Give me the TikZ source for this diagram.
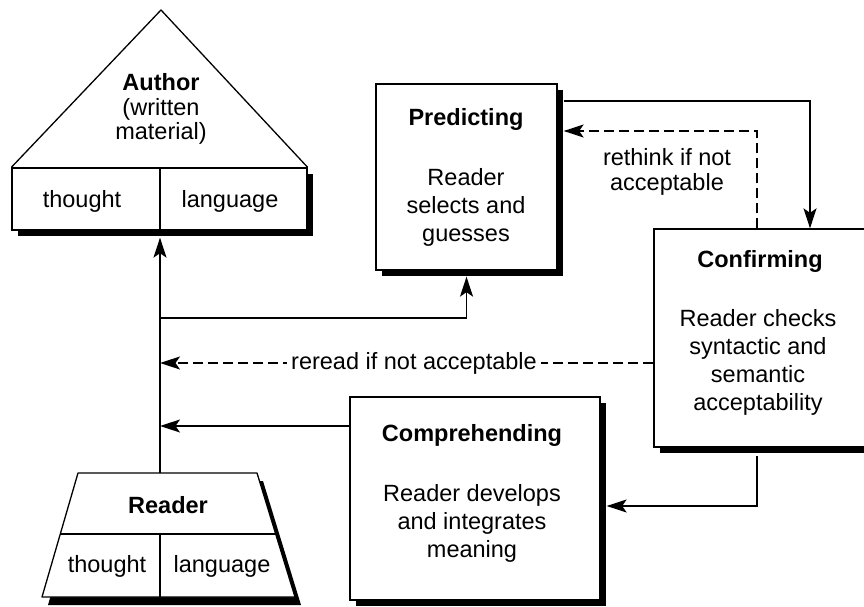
\documentclass[tikz,border=0pt]{standalone}
\usepackage{fontspec}
\setmainfont{Liberation Sans}
\usetikzlibrary{arrows.meta,shadows}

\tikzset{
  lbl/.style={font=\fontsize{23.5}{28}\selectfont, align=center, inner sep=0pt},
  ttl/.style={font=\fontsize{23.5}{28}\selectfont\bfseries, inner sep=0pt, anchor=base},
  stagebox/.style={draw, fill=white, line width=1.3pt, inner sep=0pt,
    drop shadow={shadow xshift=6pt, shadow yshift=-6pt, fill=black, opacity=1}},
  edge/.style={line width=1.3pt},
  flow/.style={edge, -{Stealth[length=20pt,width=13pt,inset=4.5pt]}},
  backflow/.style={flow, dash pattern=on 10pt off 5pt},
}

\begin{document}
\begin{tikzpicture}[x=1pt,y=-1pt]
\clip (0,0) rectangle (864,607);
\fill[white] (0,0) rectangle (864,607);

% ---- Author: triangle roof over a two-cell base ----
\node[stagebox, minimum width=295pt, minimum height=62pt] (authbox) at (159.5,199) {};
\coordinate (apex) at (161,10);
\draw[edge, line join=round] (authbox.north west) -- (apex) -- (authbox.north east);
\draw[edge] (160,168) -- (160,230);
\node[lbl, font=\fontsize{23.5}{24.5}\selectfont] (authT) at (161,109) {\textbf{Author}\\(written\\material)};
\node[lbl] (authThought) at (82,201) {thought};
\node[lbl] (authLang) at (230,201) {language};
\coordinate (authfoot) at ([yshift=-7pt]authbox.south);

% ---- Reader: trapezium with shadow ----
\fill[black] (84,481) -- (263,481) -- (301,605) -- (48,605) -- cycle;
\draw[edge, fill=white, line join=round] (78,473) -- (257,473) -- (295,597) -- (42,597) -- cycle;
\draw[edge] (60.3,534) -- (275.7,534);
\draw[edge] (160,534) -- (160,597);
\node[ttl] (readT) at (168,513.5) {Reader};
\node[lbl] (readThought) at (107,566) {thought};
\node[lbl] (readLang) at (222,566) {language};
\coordinate (rtop) at (160,473);

% ---- Stage boxes ----
\node[stagebox, minimum width=181pt, minimum height=186pt] (pred) at (466.5,177) {};
\node[ttl] (predT) at (466,125.5) {Predicting};
\node[lbl] (predB) at (466,207) {Reader\\selects and\\guesses};

\node[stagebox, minimum width=214pt, minimum height=218pt] (conf) at (761,338) {};
\node[ttl] (confT) at (760,267.5) {Confirming};
\node[lbl] (confB) at (758,362) {Reader checks\\syntactic and\\semantic\\acceptability};

\node[stagebox, minimum width=250pt, minimum height=203pt] (comp) at (475,498.5) {};
\node[ttl] (compT) at (472,441.5) {Comprehending};
\node[lbl] (compB) at (472,523) {Reader develops\\and integrates\\meaning};

% shadow edges, used as connector ends
\coordinate (predshadow) at ([xshift=6pt,yshift=-6pt]pred.south east);
\coordinate (predfoot) at ([yshift=-6pt]pred.south);
\coordinate (confshadow) at ([yshift=-8pt]conf.south);
\coordinate (compshadow) at ([xshift=6pt]comp.east);

% ---- Connectors ----
\coordinate (j1) at (160,318);
\coordinate (rr) at (160,363);
\coordinate (cr) at (160,426);
\coordinate (pc) at (810,101);
\coordinate (rt) at (757,131);
\coordinate (cc) at (757,506);

\draw[flow] (rtop) -- (rtop |- authfoot);
\draw[flow] (j1) -| (predfoot);
\draw[flow] (predshadow |- pc) -| (conf.north -| pc);
\draw[backflow] (conf.north -| rt) |- (predshadow |- rt);
\node[lbl, font=\fontsize{23.5}{25.5}\selectfont] (rethinkT) at (667,172) {rethink if not\\acceptable};
\draw[backflow] (conf.west |- rr) -- (rr);
\node[lbl, fill=white, inner xsep=4pt, inner ysep=2pt] (rereadT) at (414,363) {reread if not acceptable};
\draw[flow] (comp.west |- cr) -- (cr);
\draw[flow] (confshadow -| cc) |- (compshadow |- cc);
\end{tikzpicture}
\end{document}
